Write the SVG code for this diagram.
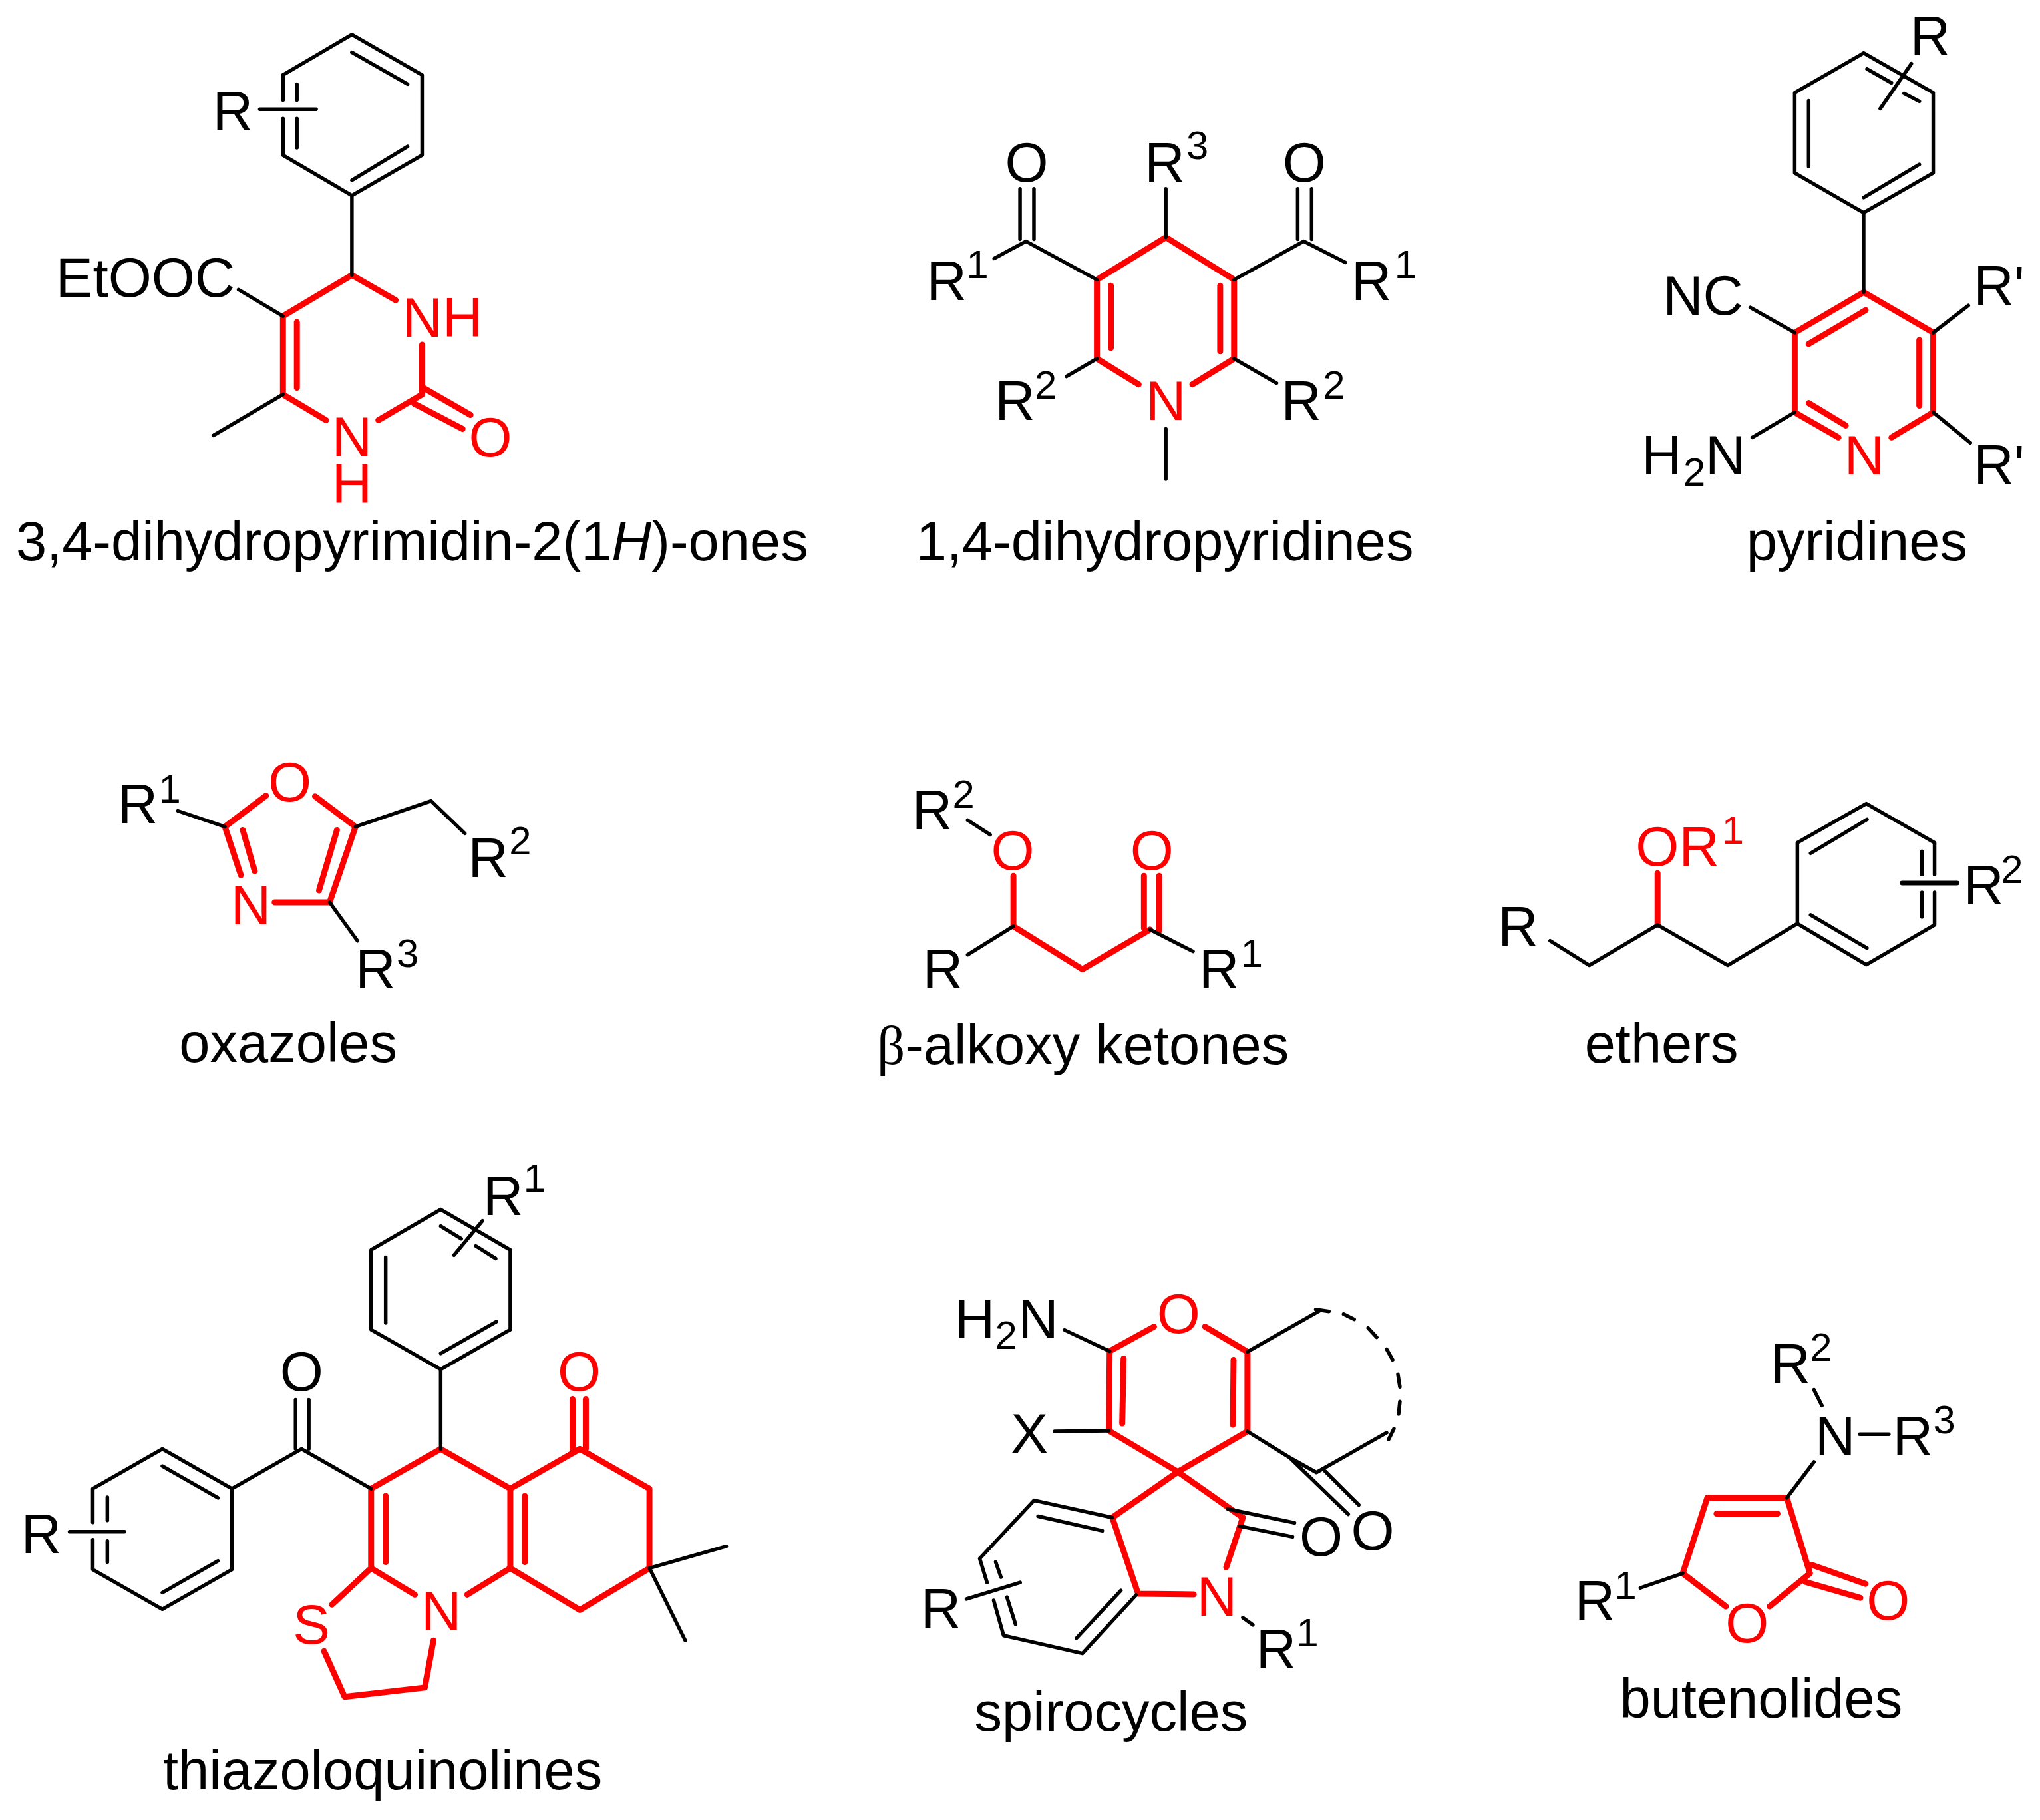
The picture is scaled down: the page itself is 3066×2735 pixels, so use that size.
<svg xmlns="http://www.w3.org/2000/svg" width="3066" height="2735" viewBox="0 0 3066 2735">
<style>
.bg{fill:#fff}
path{fill:none;stroke-linecap:round;stroke-linejoin:round}
.k{stroke:#000;stroke-width:5.5}
.r{stroke:#f00;stroke-width:9}
text{font-family:"Liberation Sans",Arial,sans-serif;font-size:84px;fill:#000}
text.c{text-anchor:middle}
text.s{font-size:60px}
text.t{font-size:83.4px}
text.red{fill:#f00}
.i{font-style:italic}
.b{font-family:"Liberation Serif",serif}
</style>
<rect class="bg" width="3066" height="2735"/>

<g id="dihydropyrimidinone" transform="scale(.996)">
<g class="bonds">
<path class="r" d="M531 415L427 477L427 595L492 634M531 415L597 453M637 520L637 595L571 634M448 486L448 585M637 584L710 626M625 609L698 647"/>
<path class="k" d="M427 113L531 52L637 113L637 234L531 295L427 234L427 179M427 151L427 113M531 79L615 127M615 221L531 272M448 127L448 151M448 179L448 223M392 165L477 165M531 295L531 415M360 437L427 477M427 595L322 657"/>
</g>
<text x="321" y="197">R</text>
<text x="84" y="448">EtOOC</text>
<text class="red" x="607" y="508">NH</text>
<text class="c red" x="531" y="688">N</text>
<text class="c red" x="531" y="759">H</text>
<text class="c red" x="740" y="689">O</text>
<text class="t" x="24" y="845">3,4-dihydropyrimidin-2(1<tspan class="i">H</tspan>)-ones</text>
</g>

<g id="dihydropyridine" transform="translate(1300 0) scale(.996) translate(-1300 0)">
<g class="bonds">
<path class="r" d="M1713 580L1650 541L1650 422L1754 358L1857 422L1857 541L1794 580M1671 431L1671 525M1836 431L1836 530"/>
<path class="k" d="M1754 285L1754 358M1754 647L1754 723M1650 422L1543 364L1495 390M1857 422L1962 364L2025 396M1534 285L1534 361M1555 285L1555 361M1953 285L1953 361M1974 285L1974 361M1650 541L1604 568M1857 541L1921 578"/>
</g>
<text class="c" x="1544" y="274">O</text>
<text class="c" x="1963" y="274">O</text>
<text x="1722" y="274">R</text><text class="s" x="1785" y="240">3</text>
<text x="1393" y="453">R</text><text class="s" x="1453" y="420">1</text>
<text x="2034" y="453">R</text><text class="s" x="2099" y="420">1</text>
<text x="1496" y="634">R</text><text class="s" x="1556" y="601">2</text>
<text x="1928" y="634">R</text><text class="s" x="1991" y="601">2</text>
<text class="c red" x="1754" y="634">N</text>
<text class="t" x="1377" y="845">1,4-dihydropyridines</text>
</g>

<g id="pyridine" transform="translate(1300 0) scale(.996) translate(-1300 0)">
<g class="bonds">
<path class="r" d="M2769 660L2703 622L2703 502L2807 441L2912 502L2912 622L2849 660M2724 519L2810 468M2891 513L2891 612M2724 608L2780 642"/>
<path class="k" d="M2807 80L2912 140L2912 261L2807 321L2703 261L2703 140L2807 80M2812 104L2849 125M2868 141L2891 153M2879 96L2832 164M2724 152L2724 251M2891 248L2807 298M2807 321L2807 441M2636 464L2703 502M2639 660L2703 622M2912 502L2965 461M2912 622L2968 668"/>
</g>
<text x="2877" y="83">R</text>
<text x="2504" y="475">NC</text>
<text x="2472" y="716">H</text><text class="s" x="2535" y="733">2</text><text x="2568" y="716">N</text>
<text class="c red" x="2808" y="716">N</text>
<text x="2973" y="460">R'</text>
<text x="2973" y="730">R'</text>
<text class="t" x="2630" y="845">pyridines</text>
</g>

<g id="oxazole" transform="translate(100 1100) scale(.996) translate(-100 -1100)">
<g class="bonds">
<path class="r" d="M401 1196L339 1243L363 1316M475 1197L536 1243L497 1357L414 1357M366 1248L384 1310M508 1248L481 1339"/>
<path class="k" d="M268 1219L339 1243M536 1243L650 1204L701 1253M497 1357L539 1415"/>
</g>
<text class="c red" x="437" y="1204">O</text>
<text class="c red" x="378" y="1390">N</text>
<text x="177" y="1238">R</text><text class="s" x="239" y="1206">1</text>
<text x="706" y="1319">R</text><text class="s" x="768" y="1285">2</text>
<text x="536" y="1487">R</text><text class="s" x="598" y="1454">3</text>
<text class="t" x="270" y="1598">oxazoles</text>
</g>

<g id="alkoxy-ketone" transform="translate(1300 1100) scale(.996) translate(-1300 -1100)">
<g class="bonds">
<path class="r" d="M1524 1317L1524 1393L1628 1458L1730 1398M1721 1317L1721 1396M1744 1317L1744 1400"/>
<path class="k" d="M1455 1233L1489 1255M1524 1393L1455 1436M1730 1398L1795 1431"/>
</g>
<text class="c red" x="1523" y="1308">O</text>
<text class="c red" x="1733" y="1308">O</text>
<text x="1371" y="1247">R</text><text class="s" x="1432" y="1214">2</text>
<text x="1387" y="1487">R</text>
<text x="1804" y="1487">R</text><text class="s" x="1867" y="1454">1</text>
<text class="t" x="1318" y="1601"><tspan class="b">β</tspan>-alkoxy ketones</text>
</g>

<g id="ether" transform="translate(1300 1100) scale(.996) translate(-1300 -1100)">
<g class="bonds">
<path class="r" d="M2496 1313L2496 1391"/>
<path class="k" d="M2334 1415L2393 1452L2496 1391L2602 1452L2707 1389L2707 1267L2811 1208L2914 1267L2914 1315M2914 1342L2914 1391L2811 1451L2707 1389M2727 1283L2812 1232M2895 1280L2895 1315M2895 1342L2895 1379M2727 1376L2812 1426"/>
<path class="k" style="stroke-width:7" d="M2865 1328L2948 1328"/>
</g>
<text class="red" x="2463" y="1302">OR</text><text class="s red" x="2593" y="1269">1</text>
<text x="2255" y="1422">R</text>
<text x="2958" y="1360">R</text><text class="s" x="3014" y="1328">2</text>
<text class="t" x="2386" y="1599">ethers</text>
</g>

<g id="thiazoloquinoline" transform="translate(0 1750) scale(.996) translate(0 -1750)">
<g class="bonds">
<path class="r" d="M626 2399L560 2359L560 2239L665 2179L770 2239L875 2179L980 2239L980 2359L875 2422L770 2359L705 2399M770 2239L770 2359M582 2250L582 2350M792 2250L792 2350M864 2104L864 2179M884 2104L884 2179M560 2359L501 2414M489 2484L520 2553L641 2539L654 2468"/>
<path class="k" d="M665 1818L770 1879L770 1999L665 2059L560 1999L560 1879L665 1818M665 1843L696 1862M718 1873L748 1892M728 1835L685 1887M582 1890L582 1989M749 1987L665 2035M665 2059L665 2179M560 2239L455 2179L350 2239L245 2179L140 2239L140 2290M140 2316L140 2361L245 2421L350 2361L350 2239M446 2105L446 2179M466 2105L466 2179M245 2205L329 2253M329 2348L245 2396M162 2252L162 2287M162 2318L162 2350M105 2304L188 2304M980 2359L1096 2326M980 2359L1034 2468"/>
</g>
<text x="729" y="1826">R</text><text class="s" x="790" y="1791">1</text>
<text class="c" x="455" y="2091">O</text>
<text class="c red" x="874" y="2091">O</text>
<text x="32" y="2336">R</text>
<text class="c red" x="666" y="2453">N</text>
<text class="c red" x="470" y="2473">S</text>
<text class="t" x="246" y="2693">thiazoloquinolines</text>
</g>

<g id="spirocycle" transform="translate(1350 1900) scale(.996) translate(-1350 -1900)">
<g class="bonds">
<path class="r" d="M1736 1994L1669 2031L1668 2151L1772 2213L1877 2152L1877 2032L1813 1994M1690 2042L1688 2140M1856 2044L1855 2142M1673 2282L1772 2213L1870 2282L1845 2357M1673 2282L1712 2397L1796 2398"/>
<path class="k" d="M1601 1999L1669 2031M1586 2152L1668 2151M1877 2032L1986 1970M2087 2154L1981 2214L1940 2191L1877 2152M1940 2191L2029 2277M1994 2212L2045 2263M1847 2269L1948 2290M1865 2295L1945 2311M1673 2282L1555 2256L1473 2344L1484 2380M1494 2407L1509 2460L1628 2487L1709 2399M1561 2280L1658 2302M1497 2349L1505 2372M1514 2402L1527 2443M1686 2392L1619 2464M1453 2405L1534 2380M1870 2433L1885 2444"/>
<path class="k" d="M1980 1968L2000 1971M2022 1975L2038 1983M2059 1996L2072 2010M2087 2028L2096 2044M2104 2066L2107 2085M2107 2107L2105 2126M2098 2148L2090 2164"/>
</g>
<text class="c red" x="1773" y="2003">O</text>
<text x="1435" y="2011">H</text><text class="s" x="1496" y="2028">2</text><text x="1531" y="2011">N</text>
<text class="c" x="1548" y="2184">X</text>
<text class="c" x="2066" y="2331">O</text>
<text class="c" x="1988" y="2340">O</text>
<text class="c red" x="1831" y="2430">N</text>
<text x="1384" y="2448">R</text>
<text x="1890" y="2509">R</text><text class="s" x="1951" y="2476">1</text>
<text class="t" x="1465" y="2604">spirocycles</text>
</g>

<g id="butenolide" transform="translate(2300 1950) scale(.996) translate(-2300 -1950)">
<g class="bonds">
<path class="r" d="M2595 2416L2530 2366L2567 2252L2687 2252L2722 2366L2661 2416M2581 2276L2673 2276M2724 2353L2806 2382M2715 2379L2798 2403"/>
<path class="k" d="M2728 2089L2740 2113M2797 2156L2841 2156M2728 2198L2687 2252M2466 2388L2530 2366"/>
</g>
<text x="2662" y="2079">R</text><text class="s" x="2722" y="2045">2</text>
<text class="c" x="2760" y="2188">N</text>
<text x="2847" y="2188">R</text><text class="s" x="2908" y="2155">3</text>
<text class="c red" x="2627" y="2470">O</text>
<text class="c red" x="2840" y="2436">O</text>
<text x="2367" y="2436">R</text><text class="s" x="2427" y="2405">1</text>
<text class="t" x="2435" y="2584">butenolides</text>
</g>
</svg>
